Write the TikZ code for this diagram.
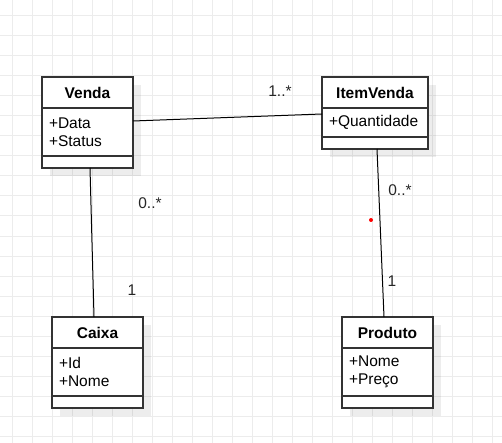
\documentclass[tikz,border=0pt]{standalone}
\usepackage{fontspec}
\setmainfont{Liberation Sans}
\usetikzlibrary{positioning,shadows}

\begin{document}
\begin{tikzpicture}[x=1pt,y=-1pt,
  gridline/.style={gray!15,line width=1pt},
  classshadow/.style={drop shadow={shadow xshift=8pt,shadow yshift=-8pt,fill=black,opacity=0.07}},
  classhead/.style={draw=black!80,line width=1.5pt,fill=white,outer sep=0pt,minimum width=91pt,minimum height=31pt,font=\fontsize{15.5}{18}\selectfont\bfseries,classshadow},
  classattr/.style={draw=black!80,line width=1.5pt,fill=white,outer sep=0pt,text width=77pt,inner xsep=7pt,inner ysep=0pt,align=left,minimum height=48pt,font=\fontsize{15.5}{18}\selectfont,classshadow},
  classops/.style={draw=black!80,line width=1.5pt,fill=white,outer sep=0pt,minimum width=91pt,minimum height=12pt,inner sep=0pt,classshadow},
  mult/.style={font=\fontsize{15.5}{18}\selectfont,text=black!85,inner sep=0pt},
  assoc/.style={black,line width=1pt}]
\useasboundingbox[fill=white] (0,0) rectangle (502,443);
% background grid
\foreach \gx in {12,32,...,492} \draw[gridline] (\gx,0) -- (\gx,443);
\foreach \gy in {16,36,...,436} \draw[gridline] (0,\gy) -- (502,\gy);
% classes
\node[classhead] (venda) at (87.5,92.5) {Venda};
\node[classattr,below=0pt of venda] (venda-a) {+Data\\+Status};
\node[classops,below=0pt of venda-a] (venda-m) {};
\node[classhead,minimum width=106pt] (item) at (375,92.5) {ItemVenda};
\node[classattr,text width=92pt,minimum height=29pt,below=0pt of item] (item-a) {+Quantidade};
\node[classops,minimum width=106pt,below=0pt of item-a] (item-m) {};
\node[classhead] (caixa) at (97.5,332.5) {Caixa};
\node[classattr,below=0pt of caixa] (caixa-a) {+Id\\+Nome};
\node[classops,below=0pt of caixa-a] (caixa-m) {};
\node[classhead] (produto) at (387.5,332.5) {Produto};
\node[classattr,below=0pt of produto] (produto-a) {+Nome\\+Preço};
\node[classops,below=0pt of produto-a] (produto-m) {};
% associations
\draw[assoc] ([yshift=11pt]venda-a.east) -- ([yshift=8.5pt]item-a.west);
\draw[assoc] ([xshift=2.5pt]venda-m.south) -- ([xshift=-3.5pt]caixa.north);
\draw[assoc] ([xshift=2pt]item-m.south) -- ([xshift=-3.5pt]produto.north);
% multiplicities
\node[mult] (m-item) at (280,91) {1..*};
\node[mult] (m-venda) at (150,203) {0..*};
\node[mult] (m-caixa) at (132,290) {1};
\node[mult] (m-itemp) at (400,190) {0..*};
\node[mult] (m-produto) at (392,281) {1};
\node[circle,fill=red,inner sep=0pt,minimum size=4pt] (dot) at (371,220) {};
\end{tikzpicture}
\end{document}
